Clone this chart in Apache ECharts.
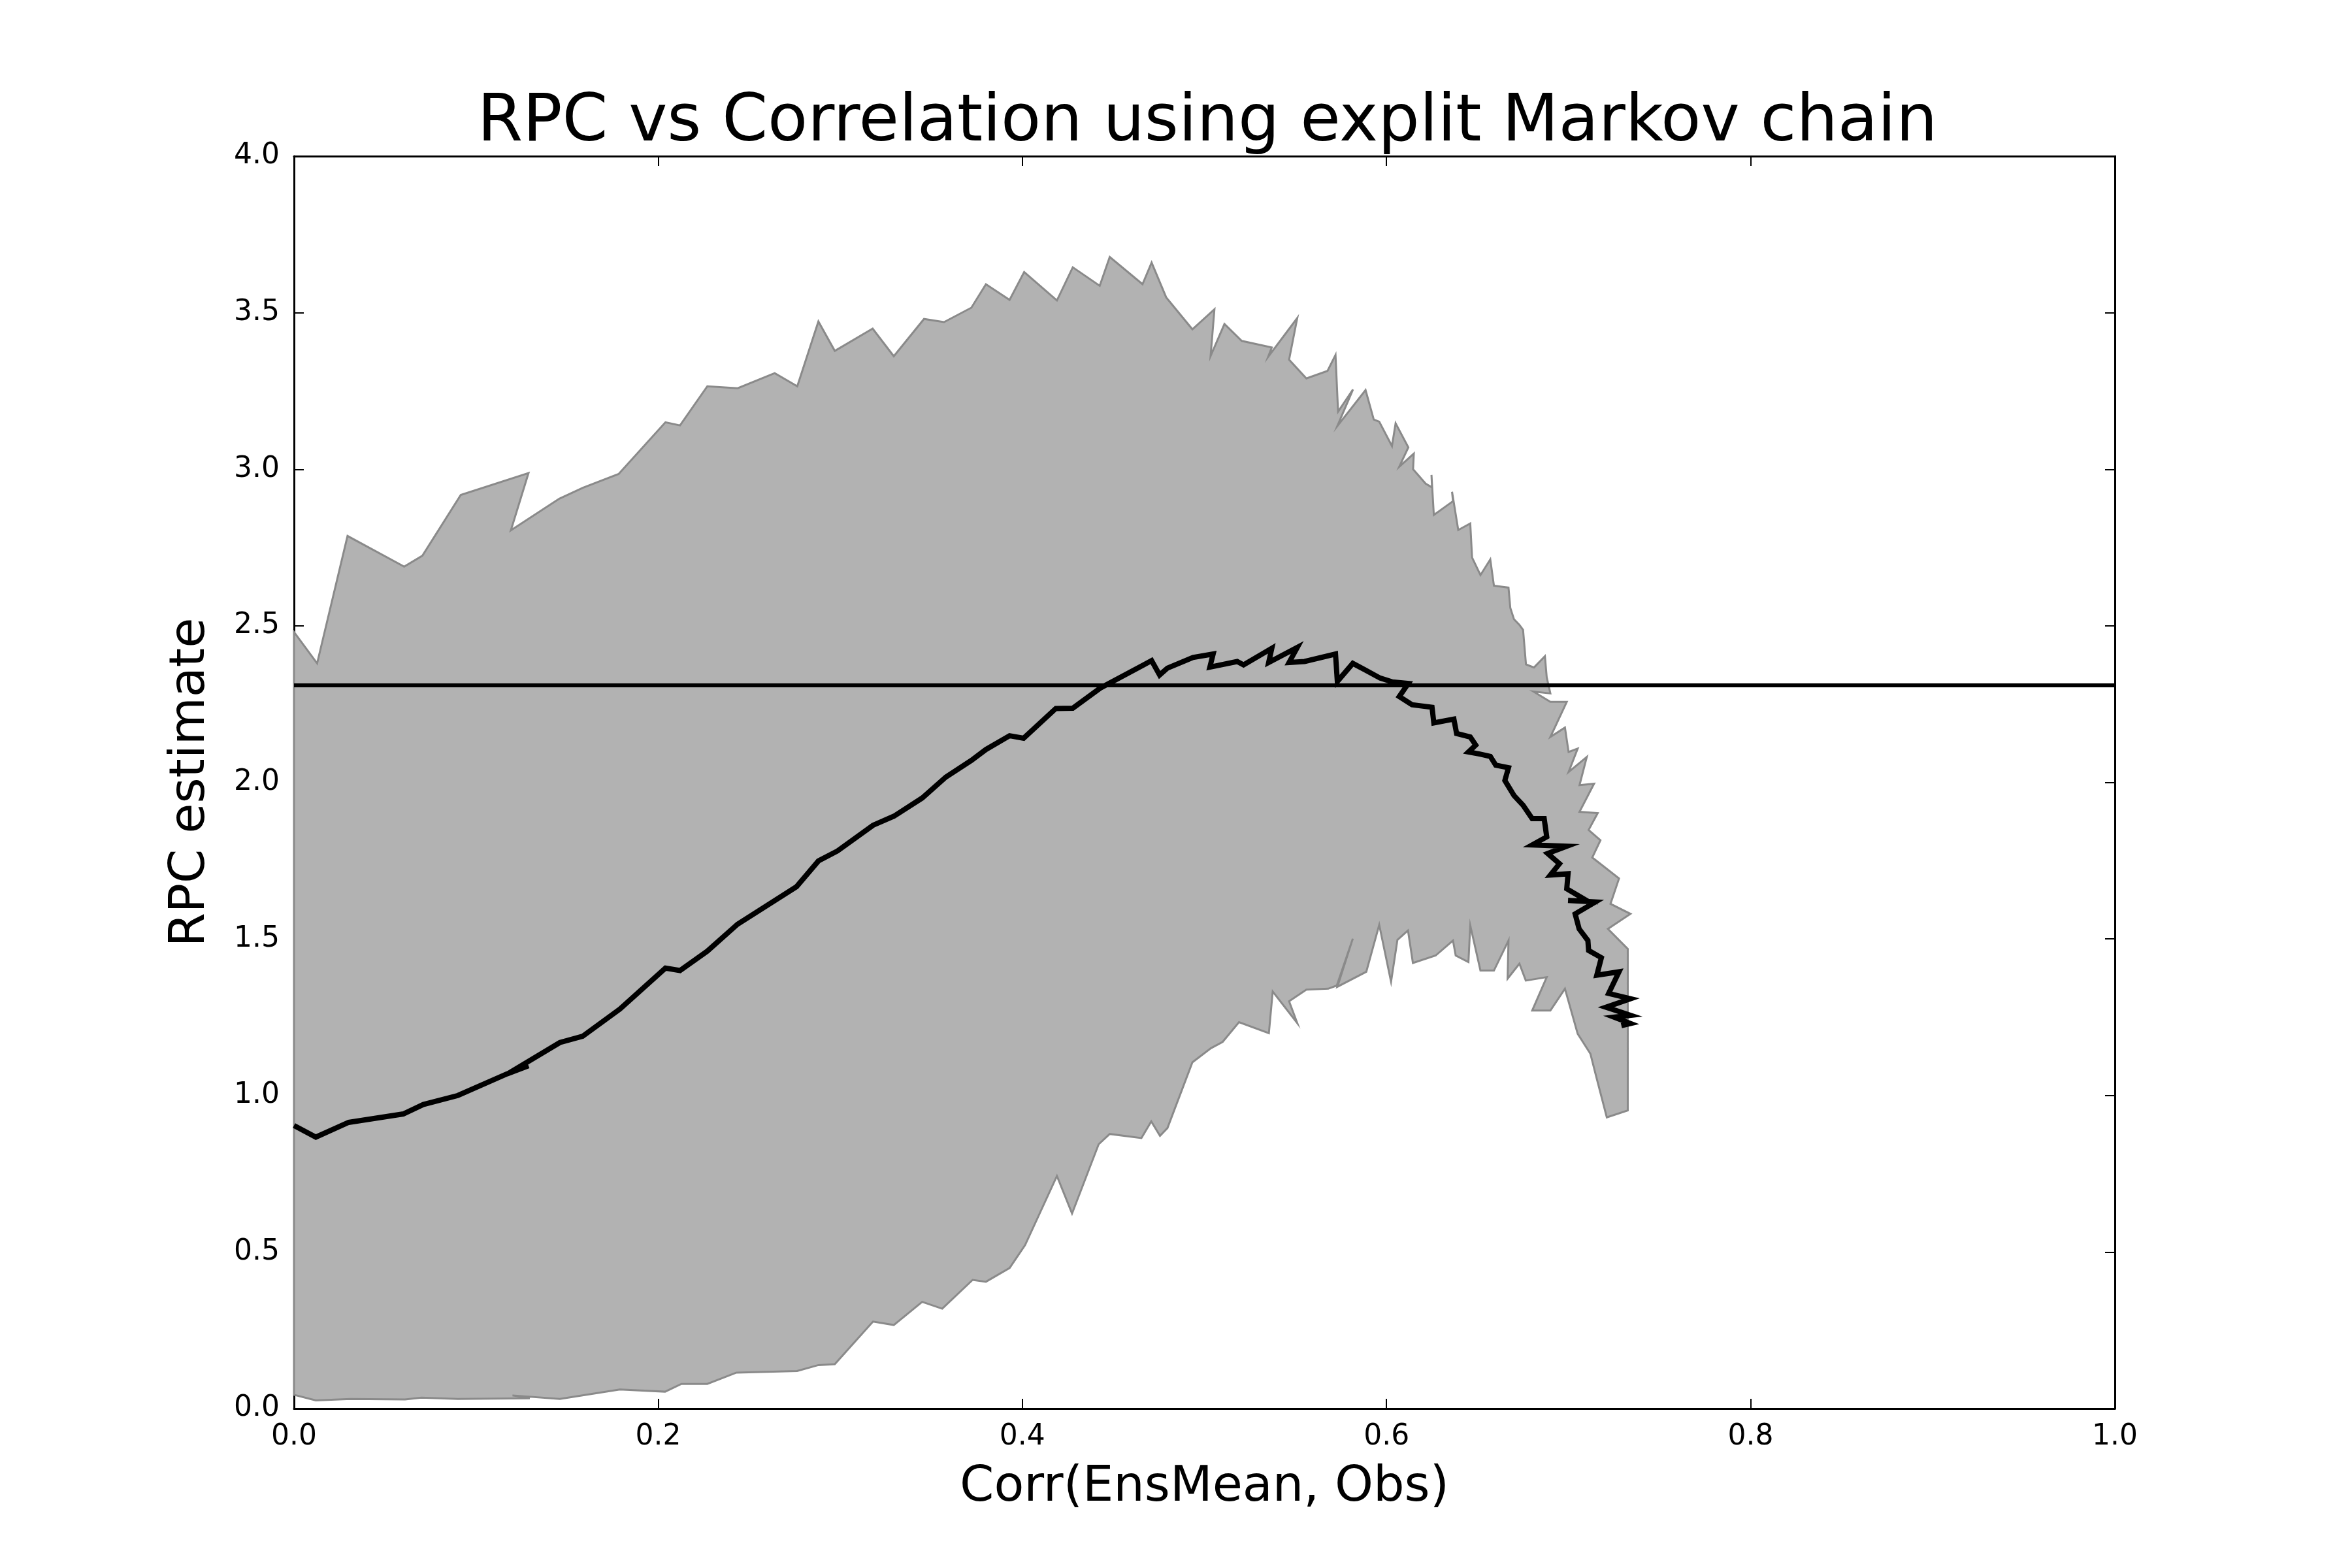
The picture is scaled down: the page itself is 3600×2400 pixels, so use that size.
<!DOCTYPE html>
<html>
<head>
<meta charset="utf-8">
<title>RPC vs Correlation</title>
<script src="https://cdn.jsdelivr.net/npm/echarts@6/dist/echarts.min.js"></script>
<style>
  html, body { margin: 0; padding: 0; background: #fff; }
  #chart { width: 3600px; height: 2400px; }
</style>
</head>
<body>
<div id="chart"></div>
<script>
// upper edge of the spread band, [corr, rpc], in drawing order
var bandUpper = [
    [0, 2.48], [0.0127, 2.38], [0.0294, 2.787], [0.0605, 2.689], [0.0705, 2.724],
    [0.0916, 2.918], [0.1288, 2.988], [0.1191, 2.805], [0.1457, 2.906], [0.1586, 2.941],
    [0.1783, 2.985], [0.204, 3.15], [0.212, 3.14], [0.227, 3.265], [0.2437, 3.259],
    [0.264, 3.307], [0.2764, 3.265], [0.288, 3.472], [0.297, 3.378], [0.3178, 3.449],
    [0.3294, 3.361], [0.346, 3.48], [0.357, 3.47], [0.372, 3.516], [0.380, 3.591],
    [0.393, 3.541], [0.401, 3.63], [0.419, 3.539], [0.4277, 3.645], [0.4425, 3.586],
    [0.448, 3.678], [0.466, 3.591], [0.471, 3.66], [0.479, 3.549], [0.4934, 3.447],
    [0.5055, 3.511], [0.5034, 3.362], [0.511, 3.464], [0.5205, 3.41], [0.537, 3.389],
    [0.535, 3.359], [0.551, 3.483], [0.5465, 3.35], [0.556, 3.29], [0.5676, 3.314],
    [0.572, 3.365], [0.5734, 3.184], [0.5816, 3.255], [0.573, 3.138], [0.5885, 3.253],
    [0.593, 3.159], [0.596, 3.152], [0.603, 3.074], [0.605, 3.147], [0.612, 3.07],
    [0.607, 3.008], [0.615, 3.05], [0.6146, 3.0], [0.6215, 2.954], [0.625, 2.942],
    [0.6247, 2.982], [0.626, 2.854], [0.6365, 2.898], [0.636, 2.928], [0.6394, 2.806],
    [0.646, 2.827], [0.647, 2.718], [0.6516, 2.662], [0.657, 2.712], [0.659, 2.628],
    [0.667, 2.622], [0.668, 2.557], [0.670, 2.521], [0.673, 2.503], [0.675, 2.487],
    [0.6766, 2.377], [0.681, 2.367], [0.687, 2.403], [0.688, 2.335], [0.690, 2.284],
    [0.6807, 2.29], [0.690, 2.257], [0.699, 2.257], [0.690, 2.145], [0.698, 2.175],
    [0.700, 2.097], [0.705, 2.108], [0.700, 2.033], [0.710, 2.081], [0.706, 1.991],
    [0.714, 1.996], [0.706, 1.906], [0.716, 1.902], [0.711, 1.848], [0.7175, 1.815],
    [0.713, 1.76], [0.7277, 1.693], [0.723, 1.612], [0.734, 1.58], [0.7216, 1.532],
    [0.7325, 1.468]
];

// lower edge of the spread band, same direction (left to right)
var bandLower = [
    [0, 0.044], [0.012, 0.026], [0.031, 0.031], [0.061, 0.029], [0.070, 0.035],
    [0.090, 0.031], [0.1295, 0.033], [0.120, 0.042], [0.146, 0.031], [0.179, 0.061],
    [0.2038, 0.054], [0.2128, 0.079], [0.227, 0.079], [0.243, 0.115], [0.2763, 0.12],
    [0.288, 0.139], [0.297, 0.142], [0.318, 0.278], [0.3294, 0.267], [0.345, 0.341],
    [0.356, 0.319], [0.3727, 0.411], [0.380, 0.405], [0.393, 0.449], [0.4015, 0.522],
    [0.419, 0.743], [0.4273, 0.623], [0.4419, 0.844], [0.448, 0.877], [0.4654, 0.864],
    [0.4708, 0.917], [0.4756, 0.871], [0.4797, 0.896], [0.4934, 1.106], [0.5036, 1.151],
    [0.510, 1.171], [0.519, 1.234], [0.5354, 1.199], [0.5375, 1.332], [0.551, 1.231],
    [0.5465, 1.301], [0.556, 1.338], [0.568, 1.341], [0.5727, 1.351], [0.5815, 1.501],
    [0.573, 1.347], [0.5889, 1.395], [0.596, 1.545], [0.6025, 1.363], [0.606, 1.497],
    [0.6118, 1.527], [0.6145, 1.423], [0.627, 1.447], [0.6365, 1.495], [0.638, 1.447],
    [0.645, 1.426], [0.646, 1.543], [0.6516, 1.399], [0.659, 1.399], [0.667, 1.495],
    [0.6665, 1.373], [0.673, 1.421], [0.6765, 1.367], [0.688, 1.378], [0.680, 1.271],
    [0.690, 1.271], [0.698, 1.341], [0.705, 1.197], [0.712, 1.133], [0.7155, 1.053],
    [0.721, 0.93], [0.7325, 0.952]
];

// median RPC estimate
var rpcMean = [
    [0.0, 0.904], [0.012, 0.867], [0.030, 0.914], [0.060, 0.941], [0.071, 0.971],
    [0.090, 1.0], [0.117, 1.069], [0.1288, 1.095], [0.119, 1.075], [0.146, 1.169],
    [0.1585, 1.189], [0.179, 1.276], [0.204, 1.407], [0.212, 1.399], [0.227, 1.461],
    [0.2436, 1.547], [0.276, 1.667], [0.288, 1.749], [0.2985, 1.781], [0.318, 1.863],
    [0.3295, 1.892], [0.345, 1.95], [0.358, 2.017], [0.372, 2.07], [0.380, 2.105],
    [0.393, 2.149], [0.4007, 2.141], [0.4184, 2.236], [0.4277, 2.237], [0.4428, 2.301],
    [0.4666, 2.375], [0.471, 2.389], [0.4754, 2.343], [0.4797, 2.365], [0.4937, 2.399],
    [0.5048, 2.41], [0.503, 2.368], [0.518, 2.386], [0.5215, 2.375], [0.537, 2.428],
    [0.5353, 2.383], [0.551, 2.431], [0.5465, 2.383], [0.555, 2.386], [0.572, 2.41],
    [0.573, 2.322], [0.5815, 2.38], [0.588, 2.36], [0.5965, 2.333], [0.603, 2.321],
    [0.612, 2.316], [0.607, 2.274], [0.614, 2.248], [0.625, 2.24], [0.626, 2.19],
    [0.637, 2.202], [0.6385, 2.156], [0.646, 2.145], [0.649, 2.119], [0.645, 2.097],
    [0.6516, 2.09], [0.657, 2.083], [0.660, 2.055], [0.667, 2.047], [0.665, 2.006],
    [0.670, 1.958], [0.675, 1.927], [0.680, 1.884], [0.6866, 1.884], [0.688, 1.826],
    [0.680, 1.80], [0.699, 1.796], [0.6885, 1.773], [0.695, 1.74], [0.690, 1.704],
    [0.6997, 1.708], [0.699, 1.66], [0.7106, 1.62], [0.6997, 1.623], [0.7147, 1.618],
    [0.7036, 1.58], [0.7058, 1.532], [0.7106, 1.495], [0.711, 1.463], [0.718, 1.44],
    [0.7155, 1.384], [0.7277, 1.395], [0.722, 1.326], [0.734, 1.309], [0.7205, 1.282],
    [0.734, 1.256], [0.725, 1.25], [0.734, 1.23], [0.729, 1.223]
];

// observed RPC reference level
var rpcObserved = 2.31;
var refLine = [[0, rpcObserved], [1, rpcObserved]];

var xTicks = [0, 0.2, 0.4, 0.6, 0.8, 1.0];
var yTicks = [0, 0.5, 1.0, 1.5, 2.0, 2.5, 3.0, 3.5, 4.0];

var FONT = 'DejaVu Sans';

function axisBase(show, pos) {
    return {
        type: 'value',
        position: pos,
        axisLine: { show: true, onZero: false, lineStyle: { color: '#000', width: 3 } },
        axisTick: { show: true, inside: true, length: 15, lineStyle: { color: '#000', width: 2 } },
        axisLabel: {
            show: show, margin: 22, color: '#000', fontSize: 44, fontFamily: FONT,
            formatter: function(v) { return v.toFixed(1); }
        },
        splitLine: { show: false }
    };
}

var chart = echarts.init(document.getElementById('chart'));

var xBottom = axisBase(true, 'bottom');
xBottom.min = xTicks[0];
xBottom.max = xTicks[xTicks.length - 1];
xBottom.interval = 0.2;
xBottom.name = 'Corr(EnsMean, Obs)';
xBottom.nameLocation = 'middle';
xBottom.nameGap = 84;
xBottom.nameTextStyle = { fontSize: 75, fontFamily: FONT, color: '#000' };

var xTop = axisBase(false, 'top');
xTop.min = xBottom.min;
xTop.max = xBottom.max;
xTop.interval = 0.2;

var yLeft = axisBase(true, 'left');
yLeft.min = yTicks[0];
yLeft.max = yTicks[yTicks.length - 1];
yLeft.interval = 0.5;
yLeft.name = 'RPC estimate';
yLeft.nameLocation = 'middle';
yLeft.nameRotate = 90;
yLeft.nameGap = 120;
yLeft.nameTextStyle = { fontSize: 75, fontFamily: FONT, color: '#000' };

var yRight = axisBase(false, 'right');
yRight.min = yLeft.min;
yRight.max = yLeft.max;
yRight.interval = 0.5;

chart.setOption({
    animation: false,
    backgroundColor: '#fff',
    title: {
        text: 'RPC vs Correlation using explit Markov chain',
        // centred over the plot area (grid spans 450..3237)
        left: 1843,
        textAlign: 'center',
        top: 134,
        textStyle: { fontSize: 100, fontWeight: 'normal', fontFamily: FONT, color: '#000' }
    },
    grid: { left: 450, right: 363, top: 239, bottom: 244 },
    xAxis: [xBottom, xTop],
    yAxis: [yLeft, yRight],
    series: [
        {
            type: 'custom',
            name: 'spread',
            xAxisIndex: 0,
            yAxisIndex: 0,
            silent: true,
            z: 1,
            data: [[0, 0]],
            renderItem: function(params, api) {
                var pts = [], i;
                for (i = 0; i < bandUpper.length; i++) {
                    pts.push(api.coord(bandUpper[i]));
                }
                for (i = bandLower.length - 1; i >= 0; i--) {
                    pts.push(api.coord(bandLower[i]));
                }
                return {
                    type: 'polygon',
                    shape: { points: pts },
                    style: { fill: '#b2b2b2', stroke: '#8a8a8a', lineWidth: 3, lineJoin: 'miter' }
                };
            }
        },
        {
            type: 'line',
            name: 'observed',
            data: refLine,
            showSymbol: false,
            silent: true,
            z: 3,
            lineStyle: { color: '#000', width: 6 }
        },
        {
            type: 'line',
            name: 'median',
            data: rpcMean,
            showSymbol: false,
            silent: true,
            z: 4,
            lineStyle: { color: '#000', width: 8, join: 'miter' }
        }
    ]
});
</script>
</body>
</html>
